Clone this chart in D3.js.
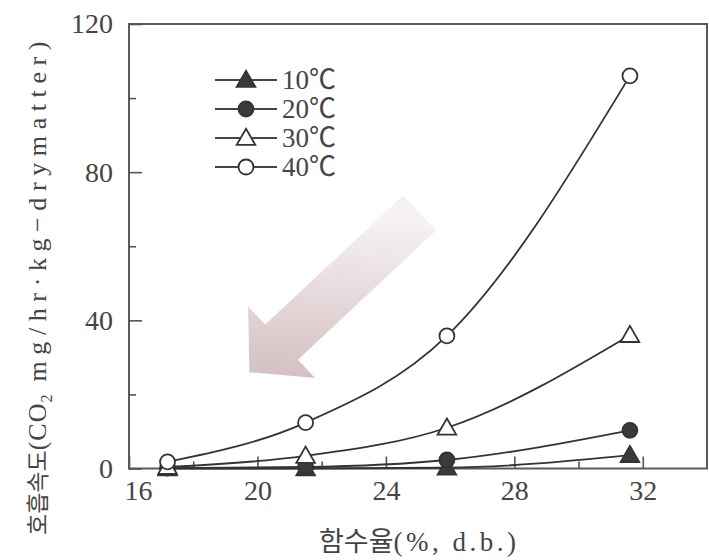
<!DOCTYPE html>
<html>
<head>
<meta charset="utf-8">
<script src="https://cdn.jsdelivr.net/npm/d3@7"></script>
<style>
  body { margin: 0; background: #fff; }
  text { font-family: "Liberation Serif", "Noto Sans CJK KR", serif; fill: #454545; }
</style>
</head>
<body>
<div id="chart"></div>
<script>
// chart size + plot box
const width = 709;
const height = 560;
const margin = {left: 129, right: 2, top: 24, bottom: 92};

// moisture content (x) for every series
const moisture = [17.2, 21.5, 25.9, 31.6];

// respiration rate per temperature
const temps = ["10℃", "20℃", "30℃", "40℃"];
const rate10 = [0, 0, 0.2, 3.6];
const rate20 = [0.1, 0.4, 2.3, 10.3];
const rate30 = [0.4, 3.4, 11, 36];
const rate40 = [1.8, 12.4, 35.8, 106];

// ticks
const xMajor = [16, 20, 24, 28, 32];
const xMinor = [18, 22, 26, 30];
const yMajor = [0, 40, 80, 120];
const yMinor = [20, 60, 100];

// arrow annotation anchors (data units)
const arrowTip = [19.75, 26];
const arrowTail = [25.05, 69];

const series = [
  {name: temps[0], values: rate10, shape: "tri", filled: true},
  {name: temps[1], values: rate20, shape: "circle", filled: true},
  {name: temps[2], values: rate30, shape: "tri", filled: false},
  {name: temps[3], values: rate40, shape: "circle", filled: false}
];

const svg = d3.select("#chart")
  .append("svg")
  .attr("width", width)
  .attr("height", height);

const x = d3.scaleLinear()
  .domain([16, 34])
  .range([margin.left, width - margin.right]);

const y = d3.scaleLinear()
  .domain([0, 120])
  .range([height - margin.bottom + 0.5, margin.top]);

const x0 = height - margin.bottom + 0.5;

// arrow (drawn first so it sits under everything)
const defs = svg.append("defs");
const grad = defs.append("linearGradient")
  .attr("id", "arrowGrad")
  .attr("gradientUnits", "userSpaceOnUse")
  .attr("x1", x(arrowTail[0])).attr("y1", y(arrowTail[1]))
  .attr("x2", x(arrowTip[0])).attr("y2", y(arrowTip[1]));
grad.append("stop").attr("offset", "0%").attr("stop-color", "#f6f1f2");
grad.append("stop").attr("offset", "100%").attr("stop-color", "#c6abae");

{
  const tx = x(arrowTip[0]), ty = y(arrowTip[1]);
  const sx = x(arrowTail[0]), sy = y(arrowTail[1]);
  const len = Math.hypot(sx - tx, sy - ty);
  const ang = Math.atan2(sy - ty, sx - tx) * 180 / Math.PI;
  const w = 24, hl = 44, hw = 49;
  // local frame: tip at origin, tail along +x
  const pts = [[0, 0], [hl, -hw], [hl, -w], [len, -w], [len, w], [hl, w], [hl, hw]];
  svg.append("path")
    .attr("d", d3.line()(pts) + "Z")
    .attr("transform", `translate(${tx},${ty}) rotate(${ang})`)
    .attr("fill", "url(#arrowGrad)");
}

// frame
svg.append("rect")
  .attr("x", margin.left)
  .attr("y", margin.top)
  .attr("width", x(34) - margin.left)
  .attr("height", x0 - margin.top)
  .attr("fill", "none")
  .attr("stroke", "#5a5a5a")
  .attr("stroke-width", 2);

// axes, ticks pointing inward
const yAxis = svg.append("g")
  .attr("transform", `translate(${margin.left},0)`)
  .call(d3.axisLeft(y).tickValues(yMajor).tickSize(-13).tickPadding(16));
svg.append("g")
  .attr("transform", `translate(${margin.left},0)`)
  .call(d3.axisLeft(y).tickValues(yMinor).tickSize(-7).tickFormat(""));

const xAxis = svg.append("g")
  .attr("transform", `translate(0,${x0})`)
  .call(d3.axisBottom(x).tickValues(xMajor).tickSize(-12).tickPadding(12));
svg.append("g")
  .attr("transform", `translate(0,${x0})`)
  .call(d3.axisBottom(x).tickValues(xMinor).tickSize(-7).tickFormat(""));

svg.selectAll(".domain").remove();
svg.selectAll(".tick line").attr("stroke", "#555").attr("stroke-width", 1.6);
svg.selectAll(".tick text")
  .attr("font-size", 28)
  .style("font-family", "'Liberation Serif', serif")
  .attr("fill", "#4a4a4a");
// first x label sits a little right of the corner
xAxis.selectAll(".tick text").filter(d => d === 16).attr("dx", 9);

// lines
const line = d3.line()
  .x((d, i) => x(moisture[i]))
  .y(d => y(d))
  .curve(d3.curveMonotoneX);

svg.selectAll(".series")
  .data(series)
  .enter()
  .append("path")
  .attr("class", "series")
  .attr("d", d => line(d.values))
  .attr("fill", "none")
  .attr("stroke", "#333")
  .attr("stroke-width", 1.8);

// markers
const triPath = d3.symbol().type(d3.symbolTriangle).size(150);

function drawMarker(g, s) {
  if (s.shape === "circle") {
    g.append("circle")
      .attr("r", 7.5)
      .attr("fill", s.filled ? "#3a3a3a" : "#fff")
      .attr("stroke", "#333")
      .attr("stroke-width", 1.8);
  } else {
    g.append("path")
      .attr("d", triPath)
      .attr("transform", "translate(0,1.5)")
      .attr("fill", s.filled ? "#3a3a3a" : "#fff")
      .attr("stroke", "#333")
      .attr("stroke-width", 1.8);
  }
}

series.forEach(s => {
  s.values.forEach((v, i) => {
    const g = svg.append("g")
      .attr("transform", `translate(${x(moisture[i])},${y(v)})`);
    drawMarker(g, s);
  });
});

// legend
const legend = svg.append("g").attr("transform", "translate(215,80)");
series.forEach((s, i) => {
  const row = legend.append("g").attr("transform", `translate(0,${i * 29})`);
  row.append("line")
    .attr("x1", 0).attr("x2", 62)
    .attr("stroke", "#444").attr("stroke-width", 1.8);
  const m = row.append("g").attr("transform", "translate(31,0)");
  drawMarker(m, s);
  row.append("text")
    .attr("x", 67)
    .attr("dy", "0.35em")
    .attr("font-size", 27)
    .text(s.name);
});

// y axis title
const yt = svg.append("text")
  .attr("transform", "translate(46,535) rotate(-90)")
  .attr("text-anchor", "start");
yt.append("tspan").attr("font-size", 23).text("호흡속도");
yt.append("tspan").attr("font-size", 26).attr("letter-spacing", 1).text("(CO");
yt.append("tspan").attr("font-size", 16).attr("dy", 6).text("2");
yt.append("tspan").attr("font-size", 26).attr("dy", -6).attr("letter-spacing", 6.6)
  .text(" mg/hr·kg−drymatter)");

// x axis title
const xt = svg.append("text")
  .attr("x", 319)
  .attr("y", 551);
xt.append("tspan").attr("font-size", 27).text("함수율");
xt.append("tspan").attr("font-size", 27).attr("letter-spacing", 3.5).text("(%,  d.b.)");
</script>
</body>
</html>
